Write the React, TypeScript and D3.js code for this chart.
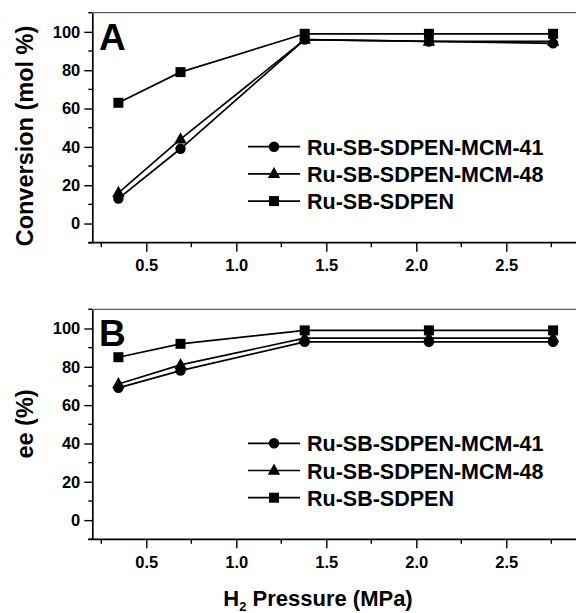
import React, { useRef, useEffect } from "react";
import * as d3 from "d3";

// H2 pressure (MPa)
const pressure = [0.345, 0.69, 1.38, 2.07, 2.76];

// panel A: conversion (mol %)
const convMCM41 = [13, 39, 96, 95, 94];
const convMCM48 = [16, 44, 96, 95, 95];
const convSDPEN = [63, 79, 99, 99, 99];

// panel B: ee (%)
const eeMCM41 = [69, 78, 93, 93, 93];
const eeMCM48 = [71, 81, 95, 95, 95];
const eeSDPEN = [85, 92, 99, 99, 99];

const seriesNames = ["Ru-SB-SDPEN-MCM-41", "Ru-SB-SDPEN-MCM-48", "Ru-SB-SDPEN"];
const markers = ["circle", "triangle", "square"];

const xTicks = [0.5, 1.0, 1.5, 2.0, 2.5];
const yTicks = [0, 20, 40, 60, 80, 100];

const FONT = "'Liberation Sans', Arial, Helvetica, sans-serif";

const App = () => {
  const d3Container = useRef(null);

  useEffect(() => {
    const svg = d3.select(d3Container.current);
    svg.selectAll("*").remove();

    const left = 92.3;
    const x = d3.scaleLinear().domain([0.2, 2.9]).range([left, left + 2.7 * 180]);

    const panels = [
      { top: 12.7, letter: "A", label: "Conversion (mol %)", data: [convMCM41, convMCM48, convSDPEN], labelY: 136 },
      { top: 309.3, letter: "B", label: "ee (%)", data: [eeMCM41, eeMCM48, eeSDPEN], labelY: 424 },
    ];

    const drawMarker = (g, type, cx, cy) => {
      if (type === "circle") {
        g.append("circle").attr("cx", cx).attr("cy", cy).attr("r", 5.2).attr("fill", "#000");
      } else if (type === "square") {
        g.append("rect").attr("x", cx - 5).attr("y", cy - 5).attr("width", 10).attr("height", 10).attr("fill", "#000");
      } else {
        g.append("path")
          .attr("d", `M${cx},${cy - 7}L${cx + 6.2},${cy + 4.2}L${cx - 6.2},${cy + 4.2}Z`)
          .attr("fill", "#000");
      }
    };

    panels.forEach((p) => {
      const bottom = p.top + 230;
      const y = d3.scaleLinear().domain([-10, 110]).range([bottom, p.top]);
      const g = svg.append("g");

      // frame: top line thin, left/bottom axes
      g.append("line")
        .attr("x1", left).attr("x2", 576).attr("y1", p.top).attr("y2", p.top)
        .attr("stroke", "#333").attr("stroke-width", 1);

      const yAxis = g.append("g")
        .attr("transform", `translate(${left},0)`)
        .call(d3.axisLeft(y).tickValues(yTicks).tickSize(8).tickSizeOuter(0).tickPadding(4));
      yAxis.select(".domain").attr("stroke-width", 1.7);
      yAxis.selectAll(".tick line").attr("stroke-width", 1.4);
      yAxis.selectAll("text")
        .attr("font-family", FONT).attr("font-weight", "bold").attr("font-size", 16.5).attr("fill", "#000");
      yAxis.append("g").selectAll("line")
        .data(d3.range(-10, 111, 20))
        .enter().append("line")
        .attr("x1", 0).attr("x2", -4).attr("y1", (d) => y(d)).attr("y2", (d) => y(d))
        .attr("stroke", "#000").attr("stroke-width", 1.4);

      const xAxis = g.append("g")
        .attr("transform", `translate(0,${bottom})`)
        .call(d3.axisBottom(x).tickValues(xTicks).tickFormat(d3.format(".1f")).tickSize(9).tickSizeOuter(0).tickPadding(8));
      xAxis.select(".domain").attr("stroke-width", 1.7).attr("d", `M${left - 4},0H576`);
      xAxis.selectAll(".tick line").attr("stroke-width", 1.4);
      xAxis.selectAll("text")
        .attr("font-family", FONT).attr("font-weight", "bold").attr("font-size", 16.5).attr("fill", "#000");
      xAxis.append("g").selectAll("line")
        .data(d3.range(0.25, 2.8, 0.5))
        .enter().append("line")
        .attr("x1", (d) => x(d)).attr("x2", (d) => x(d)).attr("y1", 0).attr("y2", 4.5)
        .attr("stroke", "#000").attr("stroke-width", 1.4);

      // series
      const line = d3.line().x((d) => x(d[0])).y((d) => y(d[1]));
      p.data.forEach((vals, i) => {
        const pts = pressure.map((px, j) => [px, vals[j]]);
        g.append("path")
          .attr("d", line(pts))
          .attr("fill", "none").attr("stroke", "#000").attr("stroke-width", 1.7);
        pts.forEach((pt) => drawMarker(g, markers[i], x(pt[0]), y(pt[1])));
      });

      // legend
      seriesNames.forEach((name, i) => {
        const ly = p.top + 134 + i * 27.2;
        g.append("line")
          .attr("x1", 248).attr("x2", 300).attr("y1", ly).attr("y2", ly)
          .attr("stroke", "#000").attr("stroke-width", 1.7);
        drawMarker(g, markers[i], 274, ly);
        g.append("text")
          .attr("x", 307).attr("y", ly + 8)
          .attr("font-family", FONT).attr("font-weight", "bold").attr("font-size", 21.5)
          .text(name);
      });

      // panel letter
      g.append("text")
        .attr("x", 99).attr("y", p.top + 36.8)
        .attr("font-family", FONT).attr("font-weight", "bold").attr("font-size", 37)
        .text(p.letter);

      // y label
      g.append("text")
        .attr("transform", `translate(33,${p.labelY}) rotate(-90)`)
        .attr("text-anchor", "middle")
        .attr("font-family", FONT).attr("font-weight", "bold").attr("font-size", 23.5)
        .text(p.label);
    });

    // x title
    const title = svg.append("text")
      .attr("x", 318).attr("y", 606)
      .attr("text-anchor", "middle")
      .attr("font-family", FONT).attr("font-weight", "bold").attr("font-size", 22);
    title.append("tspan").text("H");
    title.append("tspan").attr("font-size", 13).attr("dy", 5).text("2");
    title.append("tspan").attr("dy", -5).text(" Pressure (MPa)");
  }, []);

  return (
    <svg
      ref={d3Container}
      width={576}
      height={613}
      style={{ position: "absolute", left: 0, top: 0, background: "#fff" }}
    />
  );
};

export default App;
